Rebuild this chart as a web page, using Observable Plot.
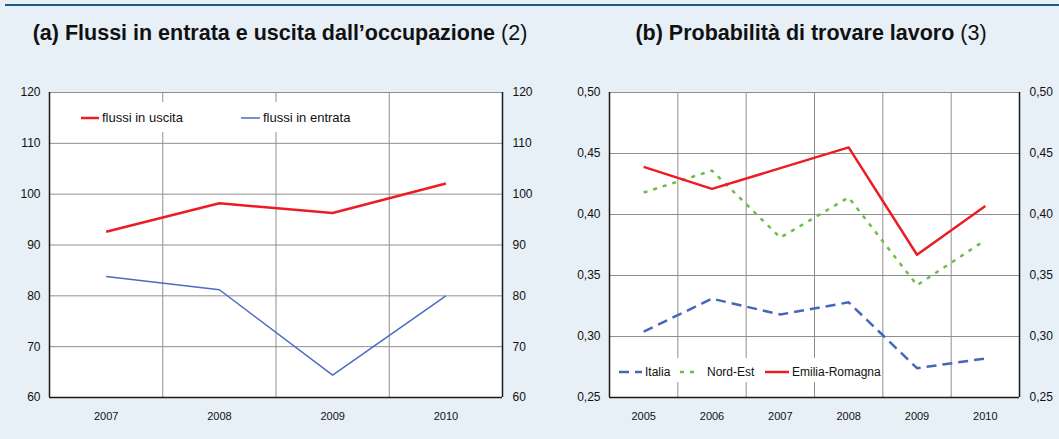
<!DOCTYPE html>
<html><head><meta charset="utf-8">
<script src="https://cdn.jsdelivr.net/npm/d3@7"></script>
<script src="https://cdn.jsdelivr.net/npm/@observablehq/plot@0.6"></script>
<style>
body{margin:0;background:#fff;font-family:"Liberation Sans",Arial,sans-serif;}
#wrap{position:relative;width:1059px;height:439px;background:#e7eff7;overflow:hidden;}
#topline{position:absolute;left:5px;right:0;top:4px;height:2px;background:#1b5a86;}
.title{position:absolute;top:21px;line-height:24px;font-size:21.5px;font-weight:bold;color:#111;text-align:center;white-space:nowrap;transform:translateX(-50%);}
.title span{font-weight:normal}
.panel{position:absolute;top:60px}
.panel svg{overflow:visible}
.legend{position:absolute;background:#fff;font-size:12px;color:#111;}
.legend .it{position:absolute;white-space:nowrap;line-height:14px;}
.legend svg{position:absolute;overflow:visible}
#lega{font-size:13px}
</style>
</head><body>
<div id="wrap">
  <div id="topline"></div>
  <div class="title" style="left:280px">(a) Flussi in entrata e uscita dall’occupazione <span>(2)</span></div>
  <div class="title" style="left:811px">(b) Probabilità di trovare lavoro <span>(3)</span></div>
  <div class="panel" id="pa" style="left:0"></div>
  <div class="panel" id="pb" style="left:530px"></div>
  <div class="legend" id="lega" style="left:70px;top:102px;width:300px;height:30px"></div>
  <div class="legend" id="legb" style="left:612px;top:358px;width:266px;height:24px"></div>
</div>
<script>
// ---- Panel (a) data ----
const yearsA = [2007, 2008, 2009, 2010];
const flussiUscita = [92.6, 98.2, 96.3, 102.1];
const flussiEntrata = [83.8, 81.2, 64.4, 80.0];
const ticksA = [60, 70, 80, 90, 100, 110, 120];
const seriesA = ["flussi in uscita", "flussi in entrata"];

// ---- Panel (b) data ----
const yearsB = [2005, 2006, 2007, 2008, 2009, 2010];
const italia = [0.304, 0.331, 0.318, 0.328, 0.274, 0.282];
const nordEst = [0.418, 0.436, 0.381, 0.414, 0.342, 0.379];
const emilia = [0.439, 0.421, 0.438, 0.455, 0.367, 0.407];
const ticksB = [0.25, 0.30, 0.35, 0.40, 0.45, 0.50];
const seriesB = ["Italia", "Nord-Est", "Emilia-Romagna"];

const FONT = '"Liberation Sans", Arial, sans-serif';
const GRID = "#8f8f8f";
const AX = "#1a1a1a";

function panel(years, series, ticks, fmt, width, ml, mr) {
  const x0 = years[0] - 0.5, x1 = years[years.length - 1] + 0.5;
  const bounds = years.slice(0, -1).map(y => y + 0.5);
  const y0 = ticks[0], y1 = ticks[ticks.length - 1];
  const marks = [
    Plot.frame({fill: "white", stroke: null}),
    Plot.ruleY(ticks.slice(1, -1), {stroke: GRID, strokeWidth: 1}),
    Plot.ruleX(bounds, {stroke: GRID, strokeWidth: 1}),
    Plot.ruleY([y1], {stroke: GRID, strokeWidth: 1}),
  ];
  for (const s of series) {
    marks.push(Plot.line(years.map((yr, i) => ({x: yr, y: s.values[i]})),
      {x: "x", y: "y", stroke: s.color, strokeWidth: s.width, strokeDasharray: s.dash || null, strokeLinecap: "butt"}));
  }
  marks.push(
    Plot.ruleY([y0], {stroke: AX, strokeWidth: 1.5}),
    Plot.ruleX([x0], {stroke: AX, strokeWidth: 1.5}),
    Plot.ruleX([x1], {stroke: AX, strokeWidth: 1.5}),
    Plot.axisY(ticks, {anchor: "left", label: null, tickSize: 0, tickPadding: 9, tickFormat: fmt, fontSize: 12}),
    Plot.axisY(ticks, {anchor: "right", label: null, tickSize: 0, tickPadding: 10, tickFormat: fmt, fontSize: 12}),
    Plot.axisX(years, {anchor: "bottom", label: null, tickSize: 0, tickPadding: 15, tickFormat: d => String(d), fontSize: 11})
  );
  return Plot.plot({
    width, height: 379, marginLeft: ml, marginRight: mr, marginTop: 32, marginBottom: 42,
    style: {background: "transparent", fontFamily: FONT, color: "#111", overflow: "visible"},
    x: {type: "linear", domain: [x0, x1], axis: null},
    y: {type: "linear", domain: [y0, y1], axis: null},
    marks
  });
}

const colA = ["#ec1c24", "#4a6cc2"];
document.getElementById("pa").append(panel(yearsA, [
  {values: flussiUscita, color: colA[0], width: 2.5},
  {values: flussiEntrata, color: colA[1], width: 1.5}
], ticksA, d => String(d), 530, 49, 28));

const colB = ["#4468b8", "#6cbd45", "#ec1c24"];
const dashB = ["10,6", "4,6", null];
document.getElementById("pb").append(panel(yearsB, [
  {values: italia, color: colB[0], width: 2.5, dash: dashB[0]},
  {values: nordEst, color: colB[1], width: 2.5, dash: dashB[1]},
  {values: emilia, color: colB[2], width: 2.5}
], ticksB, d => d.toFixed(2).replace(".", ","), 529, 79, 40));

// ---- legends ----
function legendItem(el, left, top, swW, color, width, dash, label, gap) {
  const ns = "http://www.w3.org/2000/svg";
  const svg = document.createElementNS(ns, "svg");
  svg.setAttribute("width", swW); svg.setAttribute("height", 4);
  svg.style.left = left + "px"; svg.style.top = (top - 2) + "px";
  const l = document.createElementNS(ns, "line");
  l.setAttribute("x1", 0); l.setAttribute("x2", swW); l.setAttribute("y1", 2); l.setAttribute("y2", 2);
  l.setAttribute("stroke", color); l.setAttribute("stroke-width", width);
  if (dash) l.setAttribute("stroke-dasharray", dash);
  svg.append(l); el.append(svg);
  const t = document.createElement("div");
  t.className = "it"; t.textContent = label;
  t.style.left = (left + swW + gap) + "px"; t.style.top = (top - 7) + "px";
  el.append(t);
}
const la = document.getElementById("lega");
legendItem(la, 11, 16, 18, colA[0], 2.5, null, seriesA[0], 3);
legendItem(la, 171, 16, 19, colA[1], 1.5, null, seriesA[1], 3);
const lb = document.getElementById("legb");
legendItem(lb, 7, 14, 23, colB[0], 2.5, "10,6", seriesB[0], 3);
legendItem(lb, 68, 14, 16, colB[1], 2.5, "4,6", seriesB[1], 11);
legendItem(lb, 153, 14, 24, colB[2], 2.5, null, seriesB[2], 3);
</script>
</body></html>
